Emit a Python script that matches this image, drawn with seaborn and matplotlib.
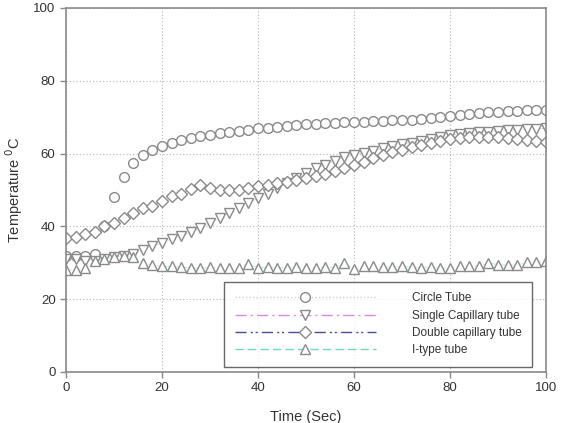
import numpy as np
import pandas as pd
import matplotlib
matplotlib.use("Agg")
import matplotlib.pyplot as plt
from matplotlib.lines import Line2D
import seaborn as sns

# ── Data ──────────────────────────────────────────────────
time = list(range(0, 101, 2))

circle_tube = [32, 32, 32, 32.5, 40, 48, 53.5, 57.5, 59.5, 61, 62, 63, 63.7, 64.3,
               64.8, 65.2, 65.6, 66, 66.3, 66.6, 66.9, 67.1, 67.4, 67.6, 67.8, 68,
               68.2, 68.4, 68.5, 68.6, 68.7, 68.8, 68.9, 69, 69.1, 69.2, 69.3, 69.5,
               69.7, 70, 70.3, 70.6, 70.9, 71.1, 71.3, 71.5, 71.7, 71.8, 71.9, 72, 72]

single_capillary = [31, 31, 30.5, 30.5, 31, 31.5, 32, 32.5, 33.5, 34.5, 35.5, 36.5,
                    37.3, 38.5, 39.6, 41, 42.3, 43.7, 45, 46.4, 47.8, 49, 50.5, 52,
                    53.3, 54.7, 56, 57, 58, 59, 59.6, 60.2, 60.8, 61.5, 62, 62.6, 63,
                    63.5, 64, 64.5, 65, 65.3, 65.6, 65.8, 66, 66.2, 66.4, 66.6, 66.7,
                    66.8, 67]

double_capillary = [36.8, 37, 38, 38.5, 40, 41, 42.3, 43.7, 45, 45.6, 47, 48.3, 49,
                    50.3, 51.4, 50.5, 50, 50, 50, 50.5, 51, 51.4, 52, 52.2, 52.7, 53.3,
                    53.8, 54.5, 55.3, 56.1, 56.9, 57.8, 58.7, 59.5, 60.3, 61, 61.7,
                    62.3, 62.9, 63.4, 63.9, 64.3, 64.5, 64.6, 64.6, 64.5, 64.3, 64.1,
                    63.8, 63.5, 63.2]

i_type = [28, 28, 28.5, 30.5, 31, 31.5, 32, 31.5, 30, 29.5, 29, 29, 28.8, 28.6, 28.5,
          28.8, 28.6, 28.5, 28.6, 29.8, 28.6, 28.8, 28.7, 28.6, 28.8, 28.7, 28.6,
          28.8, 28.6, 30, 28.2, 29, 29, 28.8, 28.9, 29, 28.8, 28.7, 28.9, 28.5, 28.6,
          29, 29.2, 29, 30, 29.5, 29.3, 29.4, 30.2, 30.3, 30.5]

labels = ["Circle Tube", "Single Capillary tube", "Double capillary tube", "I-type tube"]
line_colors = ["#c9d9c9", "#d98ad9", "#4a4a9a", "#6fd8bd"]
dashes = [(0, (1, 1.5)), (0, (8, 3, 1.5, 3)), (0, (8, 3, 1.5, 2, 1.5, 3)), (0, (6, 3))]
markers = ["o", "v", "D", "^"]
marker_sizes = [7, 7.5, 6, 7.5]
edge_gray = "#8a8a8a"

sns.set_theme(style="white")
plt.rcParams["font.family"] = ["Liberation Sans", "DejaVu Sans"]

fig = plt.figure(figsize=(5.67, 4.23), dpi=100)
ax = fig.add_axes([0.1164, 0.1206, 0.8466, 0.8605])

series = [circle_tube, single_capillary, double_capillary, i_type]
for vals, col, ls, mk, ms in zip(series, line_colors, dashes, markers, marker_sizes):
    # connecting lines are very faint in the original, markers dominate
    sns.lineplot(x=time, y=vals, ax=ax, color=col, linestyle=ls, linewidth=0.7,
                 alpha=0.45, legend=False)
    sns.lineplot(x=time, y=vals, ax=ax, linestyle="none", marker=mk, markersize=ms,
                 markerfacecolor="white", markeredgecolor=edge_gray,
                 markeredgewidth=1.0, legend=False)

ax.set_xlim(0, 100)
ax.set_ylim(0, 100)
ax.set_xticks(range(0, 101, 20))
ax.set_yticks(range(0, 101, 20))
ax.grid(True, color="#b5b5b5", linestyle=(0, (1, 2)), linewidth=0.8)
for sp in ax.spines.values():
    sp.set_color(edge_gray)
    sp.set_linewidth(1.2)
ax.tick_params(axis="both", direction="out", length=4, width=1, color=edge_gray,
               labelsize=9.5, labelcolor="#333333", bottom=True, left=True)

ax.set_xlabel("Time (Sec)", fontsize=10.5, color="#333333", labelpad=11)
ax.set_ylabel("Temperature $^0$C", fontsize=10.5, color="#333333", labelpad=6)

# legend: long handles with the marker in the middle
handles = [Line2D([], [], color=col, linestyle=ls, linewidth=1.0, marker=mk,
                  markersize=ms, markerfacecolor="white", markeredgecolor=edge_gray,
                  markeredgewidth=1.0)
           for col, ls, mk, ms in zip(line_colors, dashes, markers, marker_sizes)]
leg = ax.legend(handles, labels, loc="lower left", bbox_to_anchor=(0.329, 0.0137),
                fontsize=8.5, numpoints=1, handlelength=12, handletextpad=3,
                labelspacing=0.45, frameon=True, fancybox=False, borderpad=0.9,
                borderaxespad=0)
leg.get_frame().set_edgecolor("#444444")
leg.get_frame().set_linewidth(1.0)
for t in leg.get_texts():
    t.set_color("#333333")

fig.savefig("out.png", dpi=100)
plt.close(fig)
